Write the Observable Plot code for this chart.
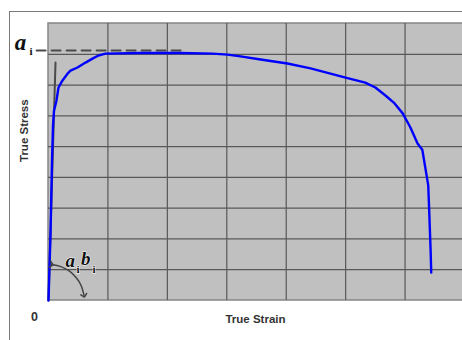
<!DOCTYPE html>
<html>
<head>
<meta charset="utf-8">
<script src="https://cdn.jsdelivr.net/npm/d3@7"></script>
<script src="https://cdn.jsdelivr.net/npm/@observablehq/plot@0.6"></script>
<style>
  html, body { margin: 0; padding: 0; background: #fff; overflow: hidden; }
  #wrap { position: relative; width: 462px; height: 340px; }
  #outer {
    position: absolute; left: 9px; top: 11px; width: 480px; height: 360px;
    border-left: 1.6px solid #7a7a7a; border-top: 1.6px solid #7a7a7a;
  }
  #chart { position: absolute; left: 0; top: 0; }
</style>
</head>
<body>
<div id="wrap"><div id="outer"></div><div id="chart"></div></div>
<script>
// True stress–strain curve (strain, stress in MPa)
const strain = [0, 0.0034, 0.0059, 0.0076, 0.0093, 0.0135, 0.0168, 0.0236, 0.032, 0.037, 0.0488,
  0.0623, 0.074, 0.0841, 0.0959, 0.155, 0.222, 0.276, 0.301, 0.323, 0.357, 0.402, 0.441, 0.5,
  0.533, 0.55, 0.567, 0.581, 0.596, 0.609, 0.621, 0.629, 0.634, 0.639, 0.641, 0.643, 0.644];
const stress = [0, 218, 455, 569, 617, 650, 692, 715, 737, 747, 757,
  773, 786, 796, 802, 804, 804, 802, 799, 793, 783, 770, 754, 724,
  708, 692, 666, 643, 608, 562, 510, 490, 432, 374, 270, 162, 91];

// Elastic (linear) loading line
const elasticStrain = [0, 0.0118];
const elasticStress = [0, 773];

// Ultimate stress guide line
const ultimateStress = 812;
const ultimateStrain = [-0.02, 0.227];

// Angle arc between elastic line and strain axis
const arcStrain = [0.0052, 0.0207, 0.0347, 0.0464, 0.0549, 0.0599];
const arcStress = [117, 110, 96, 75, 49, 16];

// Grid
const gridStrain = [0.1, 0.2, 0.3, 0.4, 0.5, 0.6];
const gridStress = [100, 200, 300, 400, 500, 600, 700, 800];

// Annotation glyphs
const symbolText = ["a", "a", "b"];
const symbolStrain = [-0.0471, 0.0365, 0.0625];
const symbolStress = [838, 128, 136];
const symbolSize = [23, 19, 19];
const subText = ["i", "i", "i"];
const subStrain = [-0.0295, 0.0495, 0.0765];
const subStress = [810, 101, 101];

const curve = strain.map((s, i) => ({strain: s, stress: stress[i]}));
const elastic = elasticStrain.map((s, i) => ({strain: s, stress: elasticStress[i]}));
const arc = arcStrain.map((s, i) => ({strain: s, stress: arcStress[i]}));
const symbols = symbolText.map((t, i) => ({t, strain: symbolStrain[i], stress: symbolStress[i], size: symbolSize[i]}));
const subs = subText.map((t, i) => ({t, strain: subStrain[i], stress: subStress[i]}));

const chart = Plot.plot({
  width: 462,
  height: 340,
  marginLeft: 48,
  marginRight: 0,
  marginTop: 23,
  marginBottom: 40,
  style: {background: "transparent", fontFamily: "Liberation Sans, Arial, sans-serif"},
  x: {domain: [0, 0.7], range: [48, 464], axis: null},
  y: {domain: [0, 900], axis: null},
  marks: [
    Plot.rect([0], {x1: 0, x2: 0.7, y1: 0, y2: 900, fill: "#c0c0c0", stroke: "#858585", strokeWidth: 1.5}),
    Plot.ruleX(gridStrain, {y1: 0, y2: 900, stroke: "#585858", strokeWidth: 1.2}),
    Plot.ruleY(gridStress, {x1: 0, x2: 0.7, stroke: "#585858", strokeWidth: 1.2}),
    Plot.lineY([ultimateStress, ultimateStress], {x: ultimateStrain, y: d => d, stroke: "#4a4a4a", strokeWidth: 2, strokeDasharray: "9,6"}),
    Plot.line(elastic, {x: "strain", y: "stress", stroke: "#4a4a4a", strokeWidth: 2}),
    Plot.line(curve, {x: "strain", y: "stress", stroke: "#0000ff", strokeWidth: 2.4, curve: "linear"}),
    Plot.text(symbols, {x: "strain", y: "stress", text: "t", fontSize: d => d.size, fontWeight: "bold", fontStyle: "italic",
      fontFamily: "Liberation Serif, Times New Roman, serif", fill: "#111", stroke: "white", strokeWidth: 1}),
    Plot.text(subs, {x: "strain", y: "stress", text: "t", fontSize: 11, fontWeight: "bold",
      fontFamily: "Liberation Serif, Times New Roman, serif", fill: "#111", stroke: "white", strokeWidth: 1}),
    Plot.line(arc, {x: "strain", y: "stress", curve: "natural", stroke: "#444", strokeWidth: 1.5, markerStart: "arrow", markerEnd: "arrow"}),
    Plot.text(["True Strain"], {frameAnchor: "bottom", dy: 22, fontSize: 11.5, fontWeight: "bold", fill: "#333"}),
    Plot.text(["True Stress"], {frameAnchor: "left", dx: -24, rotate: -90, fontSize: 11.5, fontWeight: "bold", fill: "#333"}),
    Plot.text(["0"], {frameAnchor: "bottom-left", textAnchor: "middle", dx: -14, dy: 20, fontSize: 12.5, fontWeight: "bold", fill: "#333"})
  ]
});
document.getElementById("chart").appendChild(chart);
</script>
</body>
</html>
